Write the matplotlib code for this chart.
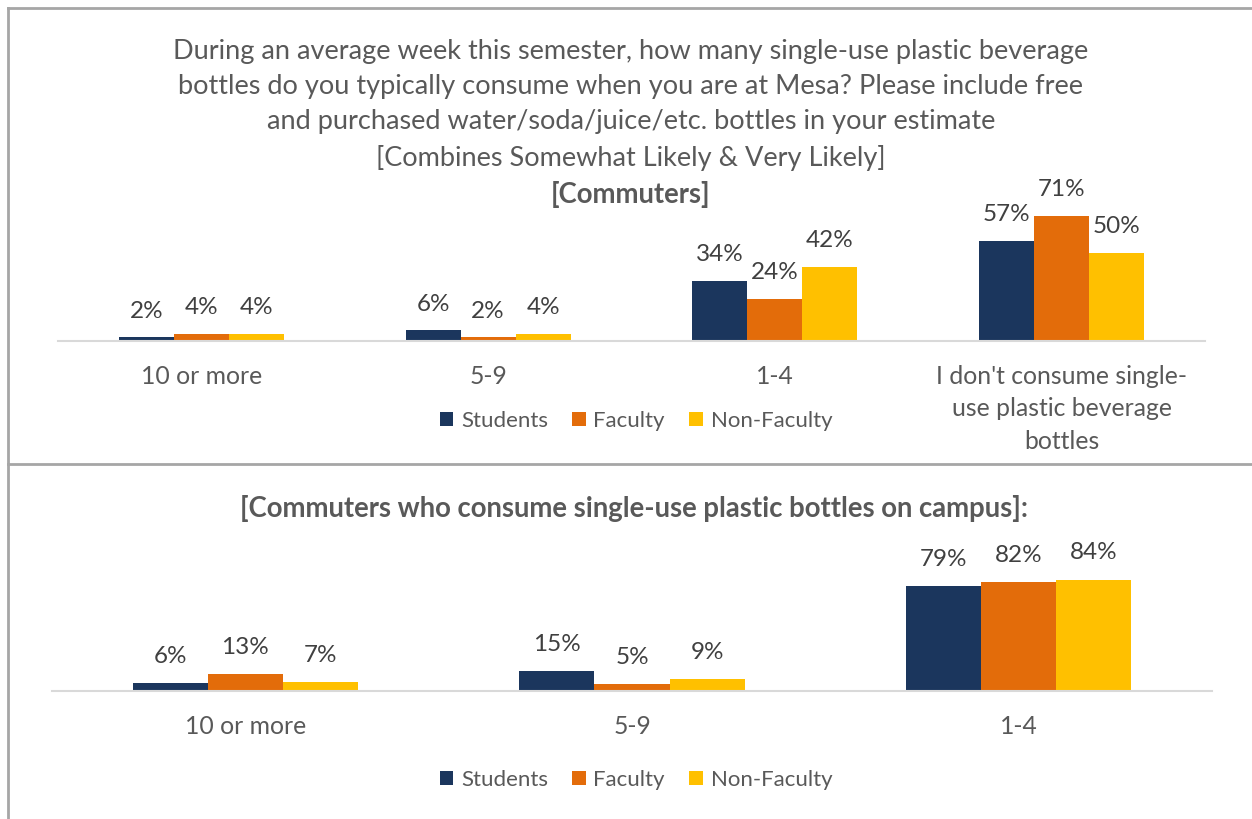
import numpy as np
import matplotlib
matplotlib.use("Agg")
import matplotlib.pyplot as plt
from matplotlib.lines import Line2D

plt.rcParams['font.family'] = ['Lato', 'DejaVu Sans']

groups = ['Students', 'Faculty', 'Non-Faculty']
colors = ['#1B365D', '#E36C0A', '#FFC000']

cats_top = ['10 or more', '5-9', '1-4',
            "I don't consume single-\nuse plastic beverage\nbottles"]
students_top = [2, 6, 34, 57]
faculty_top = [4, 2, 24, 71]
nonfac_top = [4, 4, 42, 50]

cats_bot = ['10 or more', '5-9', '1-4']
students_bot = [6, 15, 79]
faculty_bot = [13, 5, 82]
nonfac_bot = [7, 9, 84]

title_top = ("During an average week this semester, how many single-use plastic beverage\n"
             "bottles do you typically consume when you are at Mesa? Please include free\n"
             "and purchased water/soda/juice/etc. bottles in your estimate\n"
             "[Combines Somewhat Likely & Very Likely]")
sub_top = '[Commuters]'
title_bot = '[Commuters who consume single-use plastic bottles on campus]:'

W, H = 1252, 819
fig = plt.figure(figsize=(W / 100, H / 100), dpi=100)
txt = '#595959'
lab = '#404040'


def fx(px):
    return px / W


def fy(py):
    return 1 - py / H


def draw(ax, cats, series, width, ymax):
    x = np.arange(len(cats))
    for i, (vals, c, g) in enumerate(zip(series, colors, groups)):
        pos = x + (i - 1) * width
        ax.bar(pos, vals, width, color=c, label=g)
        for p, v in zip(pos, vals):
            ax.annotate(f'{v}%', (p, v), xytext=(0, 19), textcoords='offset points',
                        ha='center', va='center', fontsize=17.5, color=lab,
                        annotation_clip=False)
    ax.set_xlim(-0.5, len(cats) - 0.5)
    ax.set_ylim(0, ymax)
    ax.set_yticks([])
    ax.set_xticks(x)
    ax.set_xticklabels(cats, fontsize=17.8, color=txt, linespacing=1.5)
    ax.tick_params(axis='x', length=0, pad=17)
    for s in ['top', 'right', 'left']:
        ax.spines[s].set_visible(False)
    ax.spines['bottom'].set_color('#D9D9D9')
    ax.spines['bottom'].set_linewidth(1.5)


def legend(ax, ypx):
    ax.legend(loc='center', bbox_to_anchor=(fx(636), fy(ypx)), bbox_transform=fig.transFigure,
              ncol=3, frameon=False, fontsize=16, labelcolor=txt, handlelength=0.6,
              handleheight=0.6, handletextpad=0.35, columnspacing=1.1)


# upper chart
ax1 = fig.add_axes([fx(58), fy(341), fx(1205 - 58), (341 - 200) / H])
draw(ax1, cats_top, [students_top, faculty_top, nonfac_top], 0.192, 80)
legend(ax1, 421)

# lower chart
ax2 = fig.add_axes([fx(52), fy(691), fx(1212 - 52), (691 - 580) / H])
draw(ax2, cats_bot, [students_bot, faculty_bot, nonfac_bot], 0.194, 111 / 1.33)
legend(ax2, 780)

fig.text(fx(631), fy(105), title_top, ha='center', va='center', fontsize=19.5,
         color=txt, linespacing=1.5)
fig.text(fx(631), fy(194), sub_top, ha='center', va='center', fontsize=19.8,
         color=txt, fontweight='bold')
fig.text(fx(634), fy(508), title_bot, ha='center', va='center', fontsize=19.8,
         color=txt, fontweight='bold')

# panel frame lines
frame = '#A6A6A6'
fig.add_artist(Line2D([fx(8), 1], [fy(8), fy(8)], color=frame, lw=2))
fig.add_artist(Line2D([fx(8), 1], [fy(464), fy(464)], color=frame, lw=2))
fig.add_artist(Line2D([fx(8), fx(8)], [fy(8), 0], color=frame, lw=2))

fig.savefig('out.png', dpi=100, facecolor='white')
